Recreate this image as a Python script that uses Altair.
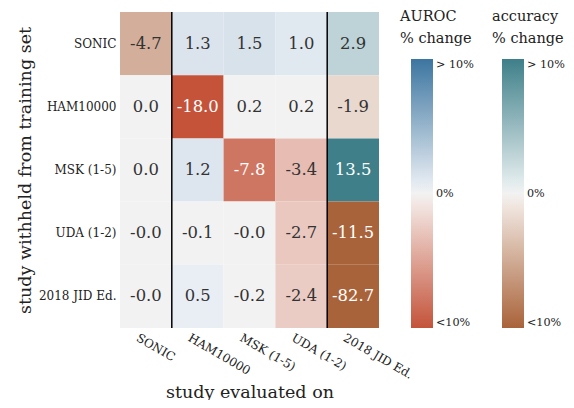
import altair as alt
import pandas as pd

FONT = "DejaVu Serif"

studies = ["SONIC", "HAM10000", "MSK (1-5)", "UDA (1-2)", "2018 JID Ed."]
accuracy_cols = ["SONIC", "2018 JID Ed."]
values = [
    [-4.7, 1.3, 1.5, 1.0, 2.9],
    [0.0, -18.0, 0.2, 0.2, -1.9],
    [0.0, 1.2, -7.8, -3.4, 13.5],
    [-0.0, -0.1, -0.0, -2.7, -11.5],
    [-0.0, 0.5, -0.2, -2.4, -82.7],
]
separators = ["HAM10000", "2018 JID Ed."]
legend_values = [-10, 0, 10]
auroc_title = "AUROC\n% change"
acc_title = "accuracy\n% change"

recs = []
for r, row in zip(studies, values):
    for c, v in zip(studies, row):
        recs.append({"row": r, "col": c, "value": v, "label": f"{v:.1f}",
                     "metric": "accuracy" if c in accuracy_cols else "AUROC"})
df = pd.DataFrame(recs)

xs = alt.Scale(domain=studies, paddingInner=0, paddingOuter=0)
ys = alt.Scale(domain=studies, paddingInner=0, paddingOuter=0)

x_axis = alt.Axis(title="study evaluated on", labelAngle=30, labelAlign="left",
                  labelBaseline="top", labelPadding=4, labelOffset=-6,
                  titleBaseline="alphabetic", titleY=69)
X = alt.X("col:N", scale=xs, axis=x_axis)
Y = alt.Y("row:N", scale=ys, axis=alt.Axis(
    title="study withheld from training set", labelPadding=4, titlePadding=4))

dom = [-10, -0.3, -0.25, 0.25, 0.3, 10]
auroc_range = ["#c4533a", "#f6eeec", "#f2f2f2", "#f2f2f2", "#edf1f6", "#3c75a0"]
acc_range = ["#a9633a", "#f5efeb", "#f2f2f2", "#f2f2f2", "#ecf2f3", "#3e7f89"]

label_expr = "datum.value > 0 ? '> 10%' : (datum.value < 0 ? '<10%' : '0%')"

def legend(x):
    return alt.Legend(orient="none", legendX=x, legendY=47, direction="vertical",
                      gradientLength=269, gradientThickness=22, values=legend_values,
                      labelExpr=label_expr, labelFont=FONT, labelFontSize=11.2,
                      labelColor="#222", labelOffset=3, gradientStrokeWidth=0,
                      labelBaseline="middle", title=None)

base = alt.Chart(df)
auroc = base.transform_filter(alt.datum.metric == "AUROC").mark_rect().encode(
    x=X, y=Y,
    color=alt.Color("value:Q", scale=alt.Scale(domain=dom, range=auroc_range, clamp=True,
                                               interpolate="rgb"), legend=legend(291)))
acc = base.transform_filter(alt.datum.metric == "accuracy").mark_rect().encode(
    x=X, y=Y,
    color=alt.Color("value:Q", scale=alt.Scale(domain=dom, range=acc_range, clamp=True,
                                               interpolate="rgb"), legend=legend(382)))
text = base.mark_text(font=FONT, fontSize=16.4).encode(
    x=X, y=Y, text="label:N",
    color=alt.condition("abs(datum.value) > 7", alt.value("white"), alt.value("#333333")))
rules = alt.Chart(pd.DataFrame({"col": separators})).mark_rule(
    color="black", strokeWidth=1.5).encode(
    x=alt.X("col:N", scale=xs, bandPosition=0, axis=x_axis))

def title_layer(t, x):
    return alt.Chart(pd.DataFrame({"t": [t]})).mark_text(
        align="left", baseline="alphabetic", lineBreak="\n", lineHeight=22,
        font=FONT, fontSize=14.5, color="#222").encode(
        text="t:N", x=alt.value(x), y=alt.value(9))

chart = alt.layer(auroc, acc, text, rules,
                  title_layer(auroc_title, 280), title_layer(acc_title, 372)).resolve_scale(
    color="independent").properties(
    width=259, height=316,
    autosize=alt.AutoSizeParams(type="none"),
    padding={"left": 112, "top": 4, "right": 187, "bottom": 72},
    background="white").configure_view(strokeWidth=0).configure_axis(
    labelFont=FONT, labelFontSize=12, labelColor="#222", ticks=False, domain=False,
    titleFont=FONT, titleFontSize=17.5, titleFontWeight="normal", titleColor="#222")

chart.save("out.html", embed_options={"renderer": "svg", "actions": False})
